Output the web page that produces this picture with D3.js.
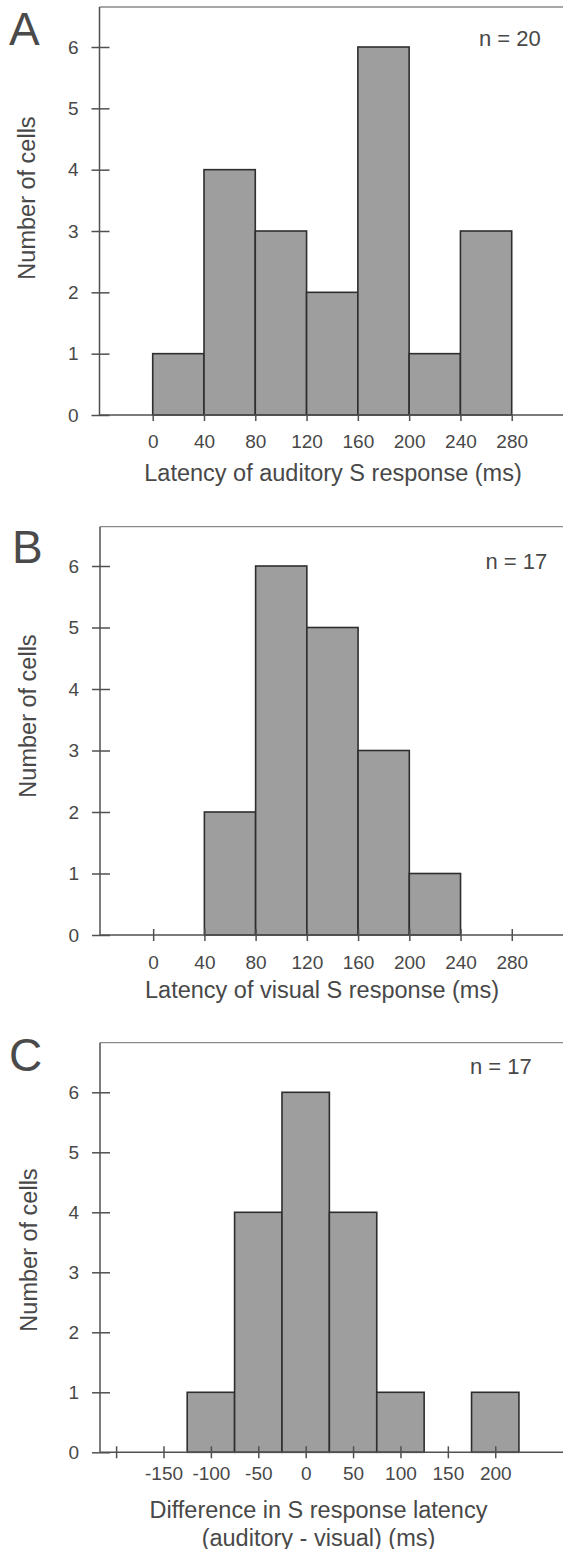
<!DOCTYPE html>
<html><head><meta charset="utf-8">
<script src="https://cdn.jsdelivr.net/npm/d3@7/dist/d3.min.js"></script>
<style>body{margin:0;background:#fff}</style>
</head><body><svg id="c" width="563" height="1549"></svg>
<script>
// ---- data ----
const binEdgesA = [0, 40, 80, 120, 160, 200, 240, 280];
const countsA = [1, 4, 3, 2, 6, 1, 3];
const binEdgesB = [40, 80, 120, 160, 200, 240];
const countsB = [2, 6, 5, 3, 1];
const binEdgesC = [-125, -75, -25, 25, 75, 125, 175, 225];
const countsC = [1, 4, 6, 4, 1, 0, 1];
const ticksAB = [0, 40, 80, 120, 160, 200, 240, 280];
const ticksC = [-200, -150, -100, -50, 0, 50, 100, 150, 200];
const tickLabelsC = ["", "-150", "-100", "-50", "0", "50", "100", "150", "200"];
const yTicks = [0, 1, 2, 3, 4, 5, 6];
const panelLetters = ["A", "B", "C"];
const nLabels = ["n = 20", "n = 17", "n = 17"];
const xTitles = [["Latency of auditory S response (ms)"], ["Latency of visual S response (ms)"], ["Difference in S response latency", "(auditory - visual) (ms)"]];
const yTitle = "Number of cells";

function bins(edges, counts) {
  return counts.map((c, i) => ({x0: edges[i], x1: edges[i + 1], n: c})).filter(d => d.n > 0);
}

// ---- layout ----
const W = 563;
const font = "'Liberation Sans', Arial, Helvetica, sans-serif";
const txt = "#484848", axisCol = "#505050", barStroke = "#2e2e2e", barFill = "#9e9e9e";

const panels = [
  {letter: panelLetters[0], n: nLabels[0], bars: bins(binEdgesA, countsA), ticks: ticksAB, tickLabels: ticksAB.map(String),
   xDom: [-41.5, 320], left: 99.5, top: 7, base: 415, y6: 47,
   letterPos: [9, 45], nPos: [479, 45.5], yTitlePos: [27, 198], tickLabY: 447.5, titleX: 333, titleY: [481], tickUp: 0},
  {letter: panelLetters[1], n: nLabels[1], bars: bins(binEdgesB, countsB), ticks: ticksAB, tickLabels: ticksAB.map(String),
   xDom: [-41.5, 320], left: 100, top: 526.7, base: 935, y6: 566,
   letterPos: [12, 563], nPos: [485.5, 568.5], yTitlePos: [28, 716], tickLabY: 968.5, titleX: 322, titleY: [998], tickUp: 6},
  {letter: panelLetters[2], n: nLabels[2], bars: bins(binEdgesC, countsC), ticks: ticksC, tickLabels: tickLabelsC,
   xDom: [-217, 271.5], left: 100, top: 1042.7, base: 1452.3, y6: 1092.3,
   letterPos: [9, 1071], nPos: [470, 1073.5], yTitlePos: [29, 1250], tickLabY: 1480, titleX: 318.5, titleY: [1518, 1545.5], tickUp: 6}
];

const svg = d3.select("#c");

panels.forEach(p => {
  const x = d3.scaleLinear().domain(p.xDom).range([p.left, W]);
  const y = d3.scaleLinear().domain([0, 6]).range([p.base, p.y6]);
  const g = svg.append("g");

  // top frame line
  g.append("line").attr("x1", p.left).attr("x2", W).attr("y1", p.top).attr("y2", p.top)
    .attr("stroke", "#8a8a8a").attr("stroke-width", 1.3);

  // bars
  g.selectAll("rect.bar").data(p.bars).join("rect").attr("class", "bar")
    .attr("x", d => x(d.x0)).attr("width", d => x(d.x1) - x(d.x0))
    .attr("y", d => y(d.n)).attr("height", d => y(0) - y(d.n))
    .attr("fill", barFill).attr("stroke", barStroke).attr("stroke-width", 1.6);

  // y axis
  const ya = g.append("g").attr("transform", `translate(${p.left},0)`)
    .call(d3.axisLeft(y).tickValues(yTicks).tickFormat(d3.format("d")).tickSize(8).tickPadding(12));
  ya.select(".domain").remove();
  ya.append("line").attr("x1", 0).attr("x2", 0).attr("y1", p.top).attr("y2", p.base)
    .attr("stroke", axisCol).attr("stroke-width", 1.5);
  ya.selectAll(".tick line").attr("x1", 10).attr("x2", -8).attr("stroke", axisCol).attr("stroke-width", 1.5);
  ya.selectAll(".tick text").attr("x", -21).attr("font-size", 19).attr("font-family", font).attr("fill", txt);

  // x axis
  const xa = g.append("g").attr("transform", `translate(0,${p.base})`)
    .call(d3.axisBottom(x).tickValues(p.ticks).tickFormat((d, i) => p.tickLabels[i]).tickSize(6));
  xa.select(".domain").remove();
  xa.append("line").attr("x1", p.left).attr("x2", W).attr("y1", 0).attr("y2", 0)
    .attr("stroke", axisCol).attr("stroke-width", 1.5);
  xa.selectAll(".tick line").attr("y1", -p.tickUp).attr("y2", 6).attr("stroke", axisCol).attr("stroke-width", 1.5);
  xa.selectAll(".tick text").attr("y", 0).attr("dy", 0)
    .attr("transform", `translate(0,${p.tickLabY - p.base})`)
    .attr("font-size", 19).attr("font-family", font).attr("fill", txt);

  // x title
  const xt = xTitles[panels.indexOf(p)];
  xt.forEach((t, i) => {
    g.append("text").attr("x", p.titleX).attr("y", p.titleY[i]).attr("text-anchor", "middle")
      .attr("font-size", 23.5).attr("font-family", font).attr("fill", txt).text(t);
  });

  // y title
  g.append("text").attr("transform", `translate(${p.yTitlePos[0]},${p.yTitlePos[1]}) rotate(-90)`)
    .attr("text-anchor", "middle").attr("dy", "0.35em")
    .attr("font-size", 23.5).attr("font-family", font).attr("fill", txt).text(yTitle);

  // panel letter
  g.append("text").attr("x", p.letterPos[0]).attr("y", p.letterPos[1])
    .attr("font-size", 46).attr("font-family", font).attr("fill", "#4a4a4a").text(p.letter);

  // n label
  g.append("text").attr("x", p.nPos[0]).attr("y", p.nPos[1])
    .attr("font-size", 22).attr("font-family", font).attr("fill", txt).text(p.n);
});
</script></body></html>
